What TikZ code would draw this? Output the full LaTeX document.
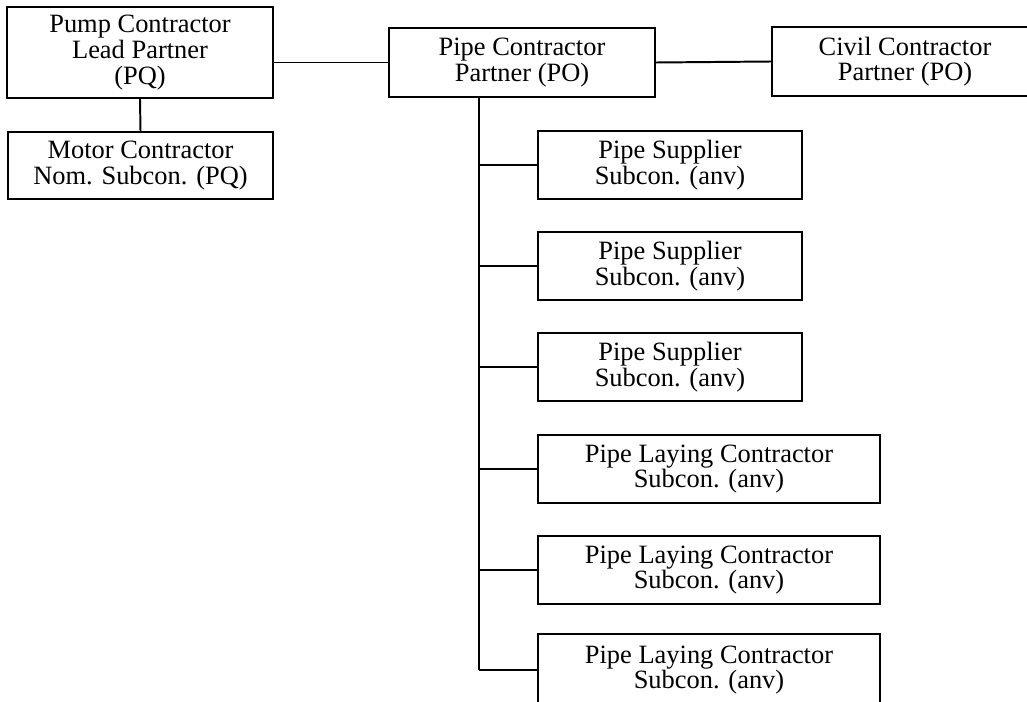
\documentclass[tikz,border=0pt]{standalone}
\usepackage{fontspec}
\setmainfont{Liberation Serif}
\usepackage{tikz}
\usetikzlibrary{positioning,calc}

\begin{document}
\begin{tikzpicture}[x=0.025cm, y=-0.025cm,
        orgbox/.style={draw, line width=1.4pt, align=center, inner sep=0pt,
            font=\fontsize{18.8}{18.2}\selectfont},
        link/.style={line width=1.4pt}]
        \useasboundingbox (0,0) rectangle (1027,702);

        % partners
        \node[orgbox, minimum width=6.65cm, minimum height=2.275cm] (pump) at (140,52.5) {Pump Contractor\\Lead Partner\\(PQ)};
        \node[orgbox, minimum width=6.625cm, minimum height=1.675cm] (motor) at (140.5,165.5) {Motor Contractor\\Nom. Subcon. (PQ)};
        \node[orgbox, minimum width=6.65cm, minimum height=1.725cm] (pipe) at (522,62.5) {Pipe Contractor\\Partner (PO)};
        \node[orgbox, minimum width=6.65cm, minimum height=1.725cm] (civil) at (905,61.5) {Civil Contractor\\Partner (PO)};

        \draw[link] (pump.south) -- (motor.north);
        \draw[link] (pipe.west) -- (pipe.west -| pump.east);
        \draw[link] (pipe.east) -- (civil.west);

        % subcontractors
        \foreach \i/\y in {1/165, 2/266, 3/367} {
            \node[orgbox, minimum width=6.6cm, minimum height=1.7cm] (sup\i) at (670,\y) {Pipe Supplier\\Subcon. (anv)};
        }
        \foreach \i/\y in {1/469, 2/570} {
            \node[orgbox, minimum width=8.55cm, minimum height=1.7cm] (lay\i) at (709,\y) {Pipe Laying Contractor\\Subcon. (anv)};
        }
        \node[orgbox, minimum width=8.55cm, minimum height=1.8cm] (lay3) at (709,670) {Pipe Laying Contractor\\Subcon. (anv)};

        \coordinate (trunk) at ($(pipe.south west)+(91,0)$);
        \draw[link] (trunk) -- (trunk |- lay3.west);
        \foreach \n in {sup1, sup2, sup3, lay1, lay2, lay3} {
            \draw[link] (\n.west) -- (\n.west -| trunk);
        }
    \end{tikzpicture}
\end{document}
